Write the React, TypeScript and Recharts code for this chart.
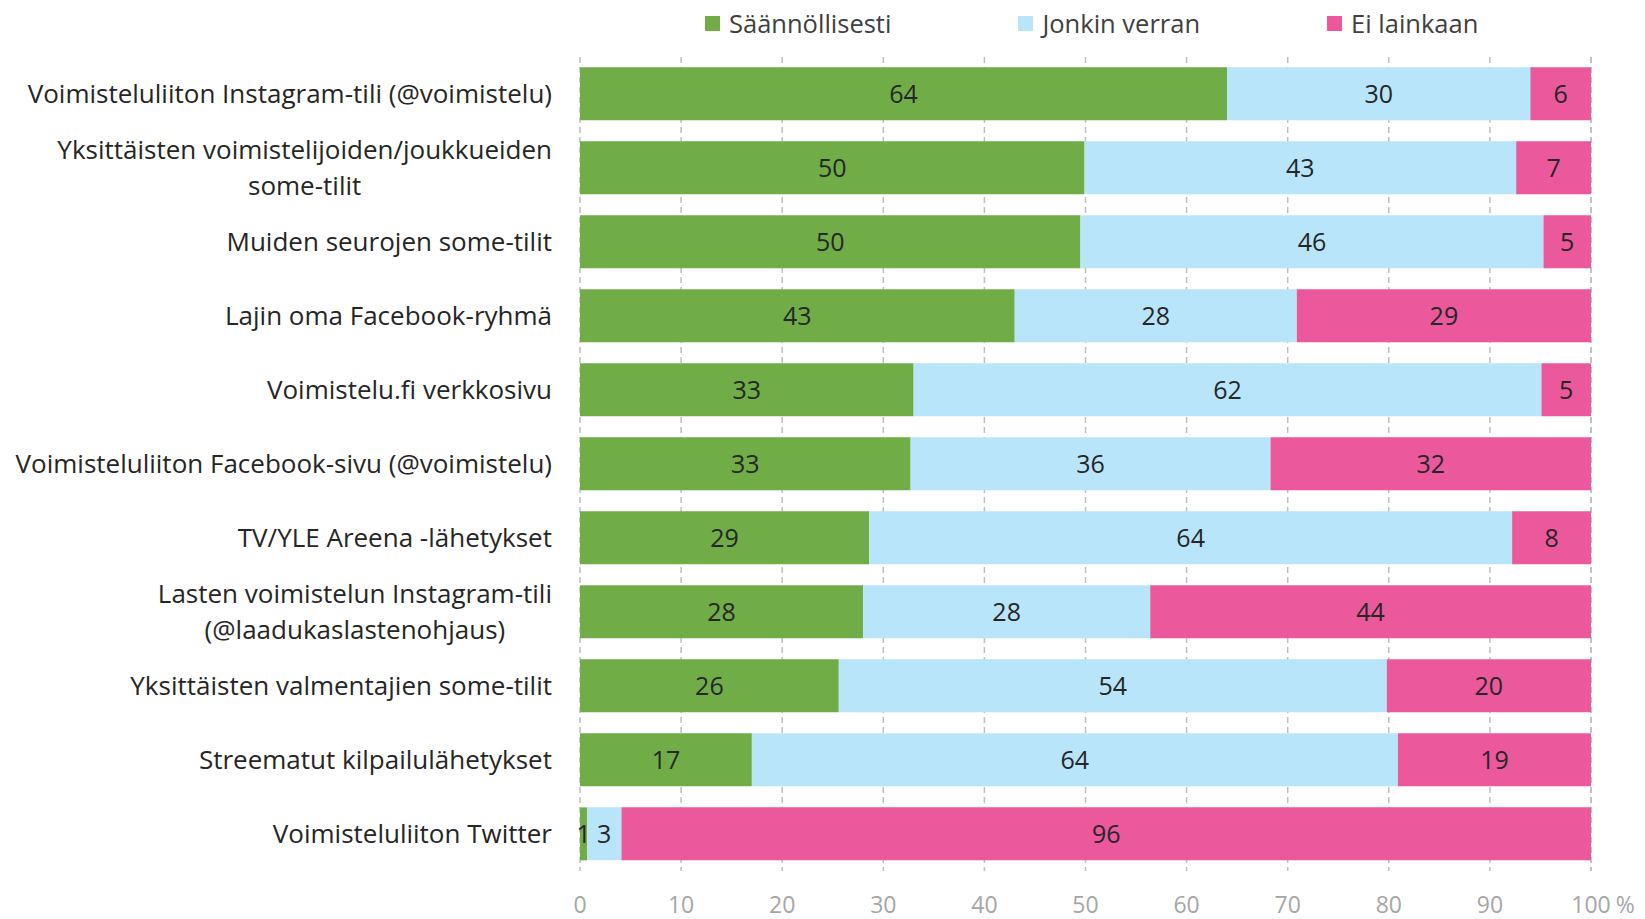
import { BarChart, Bar, XAxis, YAxis, CartesianGrid, Legend, LabelList } from "recharts";

const FONT = "'Open Sans', Carlito, Calibri, sans-serif";

// Categories (top to bottom), "\n" marks a wrapped label
const categories = [
  "Voimisteluliiton Instagram-tili (@voimistelu)",
  "Yksittäisten voimistelijoiden/joukkueiden\nsome-tilit",
  "Muiden seurojen some-tilit",
  "Lajin oma Facebook-ryhmä",
  "Voimistelu.fi verkkosivu",
  "Voimisteluliiton Facebook-sivu (@voimistelu)",
  "TV/YLE Areena -lähetykset",
  "Lasten voimistelun Instagram-tili\n(@laadukaslastenohjaus)",
  "Yksittäisten valmentajien some-tilit",
  "Streematut kilpailulähetykset",
  "Voimisteluliiton Twitter",
];

const regularly = [64, 49.9, 49.5, 43, 33, 32.7, 28.6, 28, 25.6, 17, 0.7];
const somewhat = [30, 42.7, 45.8, 27.9, 62.1, 35.6, 63.6, 28.4, 54.2, 63.9, 3.4];
const notAtAll = [6, 7.4, 4.7, 29.1, 4.9, 31.7, 7.8, 43.6, 20.2, 19.1, 95.9];

const xTicks = [0, 10, 20, 30, 40, 50, 60, 70, 80, 90, 100];

const series = [
  { key: "regularly", name: "Säännöllisesti", color: "#70AD47" },
  { key: "somewhat", name: "Jonkin verran", color: "#B9E5FB" },
  { key: "notAtAll", name: "Ei lainkaan", color: "#EB589C" },
];

const data = categories.map((name, i) => ({
  name,
  regularly: regularly[i],
  somewhat: somewhat[i],
  notAtAll: notAtAll[i],
}));

let ctx: CanvasRenderingContext2D | null = null;
const measure = (text: string, size: number) => {
  if (!ctx) ctx = document.createElement("canvas").getContext("2d");
  if (!ctx) return text.length * size * 0.5;
  ctx.font = `${size}px ${FONT}`;
  return ctx.measureText(text).width;
};

const LABEL_SIZE = 26;
const TICK_SIZE = 23;

const CategoryTick = (props: any) => {
  const { x, y, payload } = props;
  const lines = String(payload.value).split("\n");
  if (lines.length === 1) {
    return (
      <text x={x} y={y} dy="0.35em" textAnchor="end" fill="#262626" fontSize={LABEL_SIZE} fontFamily={FONT}>
        {lines[0]}
      </text>
    );
  }
  const w = measure(lines[0], LABEL_SIZE);
  const cx = x - w / 2;
  return (
    <g>
      <text x={cx} y={y - 18} dy="0.35em" textAnchor="middle" fill="#262626" fontSize={LABEL_SIZE} fontFamily={FONT}>
        {lines[0]}
      </text>
      <text x={cx} y={y + 18} dy="0.35em" textAnchor="middle" fill="#262626" fontSize={LABEL_SIZE} fontFamily={FONT}>
        {lines[1]}
      </text>
    </g>
  );
};

const PercentTick = (props: any) => {
  const { x, y, payload } = props;
  const label = String(payload.value);
  const w = measure(label, TICK_SIZE);
  return (
    <g>
      <text x={x} y={y} dy="0.71em" textAnchor="middle" fill="#A6A6A6" fontSize={TICK_SIZE} fontFamily={FONT}>
        {label}
      </text>
      {payload.value === 100 && (
        <text x={x + w / 2 + 5} y={y} dy="0.71em" textAnchor="start" fill="#A6A6A6" fontSize={TICK_SIZE} fontFamily={FONT}>
          %
        </text>
      )}
    </g>
  );
};

const LegendContent = () => (
  <div style={{ height: 0, overflow: "visible" }}>
    <div style={{ display: "flex", paddingLeft: 697, fontFamily: FONT, height: 30, alignItems: "center" }}>
      {series.map((s) => (
        <div key={s.key} style={{ display: "flex", alignItems: "center", marginRight: 127 }}>
          <span style={{ width: 15, height: 15, background: s.color, display: "inline-block", marginRight: 9 }} />
          <span style={{ fontSize: 25.5, color: "#404040" }}>{s.name}</span>
        </div>
      ))}
    </div>
  </div>
);

export default function App() {
  return (
    <div style={{ width: 1637, height: 911 }}>
      <BarChart
        width={1637}
        height={911}
        data={data}
        layout="vertical"
        barCategoryGap="14%"
        margin={{ top: 49, right: 54, left: 0, bottom: 8 }}
      >
        <CartesianGrid horizontal={false} stroke="#BFBFBF" strokeWidth={1.5} strokeDasharray="6 4" />
        <XAxis
          type="number"
          domain={[0, 100]}
          ticks={xTicks}
          axisLine={false}
          tickLine={false}
          height={40}
          tickSize={0}
          tickMargin={26}
          tick={<PercentTick />}
          interval={0}
        />
        <YAxis
          type="category"
          dataKey="name"
          width={572}
          axisLine={false}
          tickLine={false}
          tickSize={0}
          tickMargin={28}
          tick={<CategoryTick />}
          interval={0}
        />
        <Legend verticalAlign="top" content={<LegendContent />} wrapperStyle={{ top: 0, left: 0, width: 1637 }} />
        {series.map((s) => (
          <Bar key={s.key} dataKey={s.key} name={s.name} stackId="a" fill={s.color} isAnimationActive={false}>
            <LabelList
              dataKey={s.key}
              position="center"
              formatter={(v: any) => Math.round(Number(v))}
              fill="#262626"
              fontSize={25}
              fontFamily={FONT}
            />
          </Bar>
        ))}
      </BarChart>
    </div>
  );
}
